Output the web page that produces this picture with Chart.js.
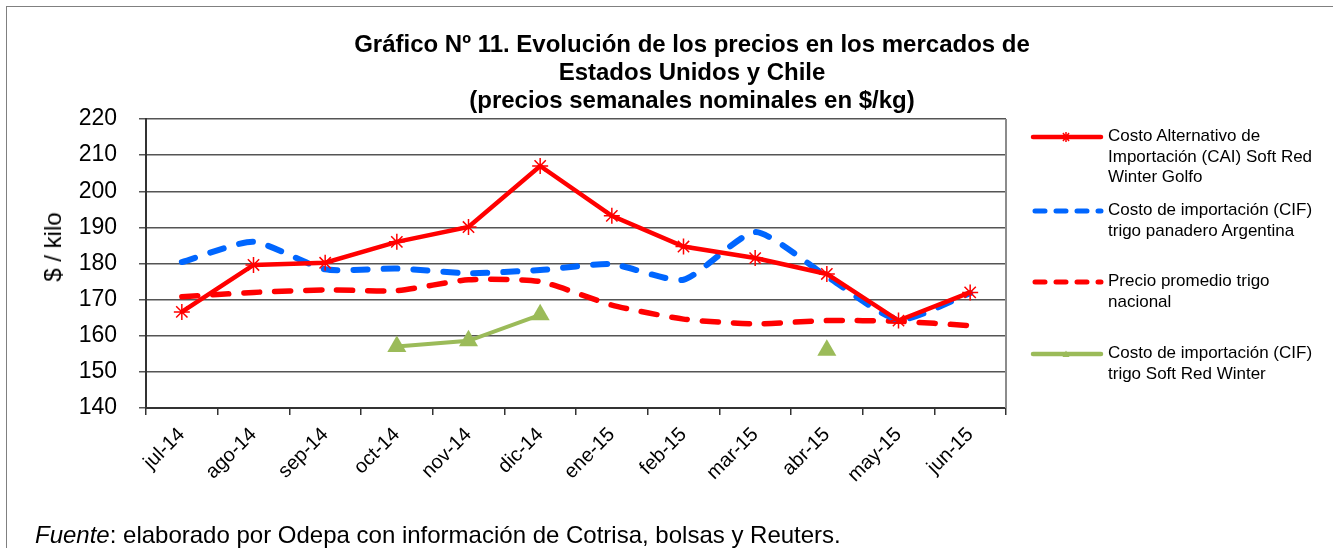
<!DOCTYPE html>
<html>
<head>
<meta charset="utf-8">
<script src="https://cdn.jsdelivr.net/npm/chart.js@4/dist/chart.umd.min.js"></script>
<style>
  body { margin: 0; background: #fff; font-family: "Liberation Sans", Arial, sans-serif; color: #000; }
  #wrap { position: relative; width: 1333px; height: 548px; overflow: hidden; }
  #frame { position: absolute; left: 6px; top: 6px; width: 1340px; height: 570px; border: 1.5px solid #808080; }
  #chart { position: absolute; left: 0; top: 0; }
  #title { position: absolute; left: 292px; top: 30px; width: 800px; text-align: center;
           font-weight: bold; font-size: 24px; line-height: 28px; }
  #ytitle { position: absolute; left: 53px; top: 247px; font-size: 24px; white-space: nowrap;
            transform: translate(-50%, -50%) rotate(-90deg); }
  #legend { position: absolute; left: 1030px; top: 0; }
  .item { position: absolute; left: 0; width: 300px; }
  .item svg { position: absolute; left: 0; }
  .item span { position: absolute; left: 78px; top: 0; font-size: 17px; line-height: 20.5px; white-space: nowrap; }
  #source { position: absolute; left: 35px; top: 521px; font-size: 24px; line-height: 28px; white-space: nowrap; }
</style>
</head>
<body>
<div id="wrap">
  <div id="frame"></div>
  <canvas id="chart" width="1333" height="548"></canvas>
  <div id="title">Gráfico Nº 11. Evolución de los precios en los mercados de<br>Estados Unidos y Chile<br>(precios semanales nominales en $/kg)</div>
  <div id="ytitle">$ / kilo</div>
  <div id="legend">
    <div class="item" style="top:126px">
      <svg width="74" height="22" style="top:0"><line x1="3" y1="11" x2="71" y2="11" stroke="#ff0000" stroke-width="4.5" stroke-linecap="round"/><path d="M33 7 L39 15 M39 7 L33 15 M36 6 L36 16" stroke="#ff0000" stroke-width="1.5"/></svg>
      <span>Costo Alternativo de<br>Importación (CAI) Soft Red<br>Winter Golfo</span>
    </div>
    <div class="item" style="top:200px">
      <svg width="74" height="22" style="top:0"><line x1="5" y1="11" x2="71" y2="11" stroke="#0066ff" stroke-width="5" stroke-linecap="round" stroke-dasharray="10 11"/></svg>
      <span>Costo de importación (CIF)<br>trigo panadero Argentina</span>
    </div>
    <div class="item" style="top:271px">
      <svg width="74" height="22" style="top:0"><line x1="5" y1="11" x2="71" y2="11" stroke="#ff0000" stroke-width="5" stroke-linecap="round" stroke-dasharray="10 11"/></svg>
      <span>Precio promedio trigo<br>nacional</span>
    </div>
    <div class="item" style="top:343px">
      <svg width="74" height="22" style="top:0"><line x1="3" y1="11" x2="71" y2="11" stroke="#9bbb59" stroke-width="4.5" stroke-linecap="round"/><path d="M32.5 14 L36 7.5 L39.5 14 Z" fill="#9bbb59"/></svg>
      <span>Costo de importación (CIF)<br>trigo Soft Red Winter</span>
    </div>
  </div>
  <div id="source"><i>Fuente</i>: elaborado por Odepa con información de Cotrisa, bolsas y Reuters.</div>
</div>
<script>
const months = ["jul-14", "ago-14", "sep-14", "oct-14", "nov-14", "dic-14",
                "ene-15", "feb-15", "mar-15", "abr-15", "may-15", "jun-15"];
const caiSoftRed = [166.6, 179.6, 180.2, 186.0, 190.1, 207.0, 193.2, 184.7, 181.5, 177.1, 164.2, 172.0];
const cifArgentina = [180.4, 186.0, 178.4, 178.6, 177.3, 178.2, 179.8, 175.5, 188.7, 176.4, 164.4, 171.8];
const precioNacional = [170.8, 172.0, 172.7, 172.5, 175.5, 175.0, 168.5, 164.6, 163.3, 164.2, 164.0, 162.8];
const cifSoftRed = [null, null, null, 157.0, 158.6, 165.8, null, null, null, 156.0, null, null];
const yTicks = { min: 140, max: 220, step: 10 };

Chart.defaults.font.family = '"Liberation Sans", Arial, sans-serif';
Chart.defaults.color = "#000";

const plotFrame = {
  id: "plotFrame",
  beforeDatasetsDraw(chart) {
    const { ctx, chartArea: a } = chart;
    ctx.save();
    ctx.strokeStyle = "#8c8c8c";
    ctx.lineWidth = 2;
    ctx.beginPath();
    ctx.moveTo(a.right, a.top);
    ctx.lineTo(a.right, a.bottom);
    ctx.stroke();
    ctx.restore();
  }
};

new Chart(document.getElementById("chart").getContext("2d"), {
  type: "line",
  data: {
    labels: months,
    datasets: [
      {
        label: "Costo Alternativo de Importación (CAI) Soft Red Winter Golfo",
        data: caiSoftRed,
        borderColor: "#ff0000",
        backgroundColor: "#ff0000",
        borderWidth: 4.5,
        pointStyle: "star",
        pointRadius: 8,
        pointBorderWidth: 1.5,
        tension: 0
      },
      {
        label: "Costo de importación (CIF) trigo panadero Argentina",
        data: cifArgentina,
        borderColor: "#0066ff",
        borderWidth: 6,
        borderDash: [14, 16],
        borderCapStyle: "round",
        borderJoinStyle: "round",
        pointRadius: 0,
        tension: 0.2
      },
      {
        label: "Precio promedio trigo nacional",
        data: precioNacional,
        borderColor: "#ff0000",
        borderWidth: 5.5,
        borderDash: [16, 15],
        borderCapStyle: "round",
        borderJoinStyle: "round",
        pointRadius: 0,
        tension: 0.2
      },
      {
        label: "Costo de importación (CIF) trigo Soft Red Winter",
        data: cifSoftRed,
        borderColor: "#9bbb59",
        backgroundColor: "#9bbb59",
        borderWidth: 4,
        pointStyle: "triangle",
        pointRadius: 11,
        pointBorderWidth: 0,
        spanGaps: false,
        tension: 0
      }
    ]
  },
  options: {
    responsive: false,
    animation: false,
    layout: { padding: { left: 46, right: 327, top: 119, bottom: 40 } },
    plugins: {
      legend: { display: false },
      tooltip: { enabled: false }
    },
    scales: {
      x: {
        offset: true,
        grid: { offset: true, drawOnChartArea: false, tickLength: 7, color: "#333", lineWidth: 1.5 },
        border: { color: "#333", width: 2 },
        ticks: { minRotation: 45, maxRotation: 45, autoSkip: false, padding: 8, font: { size: 20 } },
        afterFit: s => { s.height = 100; }
      },
      y: {
        min: yTicks.min,
        max: yTicks.max,
        ticks: { stepSize: yTicks.step, padding: 22, font: { size: 23 } },
        grid: { color: "#555", lineWidth: 1.5, tickLength: 7 },
        border: { color: "#333", width: 2 },
        afterFit: s => { s.width = 100; }
      }
    }
  },
  plugins: [plotFrame]
});
</script>
</body>
</html>
